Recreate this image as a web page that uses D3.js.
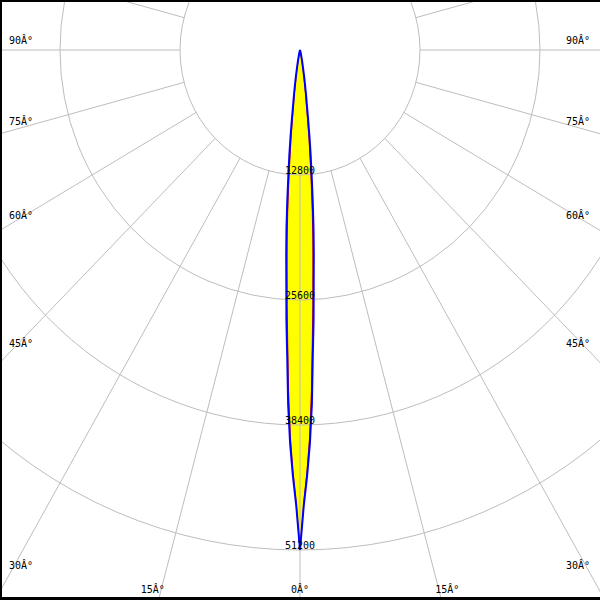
<!DOCTYPE html>
<html>
<head>
<meta charset="utf-8">
<script src="https://cdn.jsdelivr.net/npm/d3@7"></script>
<style>
  html, body { margin: 0; padding: 0; background: #fff; }
  svg { display: block; }
</style>
</head>
<body>
<svg id="chart" width="600" height="600"></svg>
<script>
// ---- data ----
const gammaAngles = [0, 0.5, 1, 1.5, 2, 2.5, 3, 3.5, 4, 4.5, 5, 5.5, 6, 6.5, 7, 7.5, 8, 9, 10, 11, 12, 13, 14, 15, 20];
const blueIntensity = [51200, 46600, 43600, 40300, 36300, 31300, 27700, 23900, 21100, 18400, 15600, 13000, 10900, 8900, 7000, 5500, 4600, 3000, 1900, 1200, 700, 400, 200, 100, 0];
const redIntensity  = [51200, 46400, 43100, 39500, 34900, 30000, 26100, 22500, 19600, 16700, 13800, 11300, 9200, 7200, 5500, 4600, 3700, 2300, 1400, 800, 450, 250, 120, 60, 0];
const ringValues = [12800, 25600, 38400, 51200];
const spokeAngles = [0, 15, 30, 45, 60, 75, 90, 105, 120, 135, 150, 165, 180, 195, 210, 225, 240, 255, 270, 285, 300, 315, 330, 345];
const angleLabels = [0, 15, 30, 45, 60, 75, 90];
const degSuffix = "Â°";

// ---- layout ----
const W = 600, H = 600;
const cx = 300, cy = 50;
const kx = 0.96; // horizontal squash of the original picture
const r = d3.scaleLinear().domain([0, 51200]).range([0, 500]);
const rad = d => d * Math.PI / 180;

const svg = d3.select("#chart");

const px = (g, v) => cx + kx * r(v) * Math.sin(rad(g));
const py = (g, v) => cy + r(v) * Math.cos(rad(g));

function curvePoints(vals) {
  const pts = [];
  for (let i = gammaAngles.length - 1; i >= 0; i--) pts.push([-gammaAngles[i], vals[i]]);
  for (let i = 1; i < gammaAngles.length; i++) pts.push([gammaAngles[i], vals[i]]);
  return pts;
}
const line = d3.line().x(d => px(d[0], d[1])).y(d => py(d[0], d[1]));

// fill
const gFill = svg.append("g");
[redIntensity, blueIntensity].forEach(vals => {
  gFill.append("path").attr("d", line(curvePoints(vals)) + "Z")
    .attr("fill", "#ffff00").attr("stroke", "none");
});

// grid
const grid = svg.append("g").attr("fill", "none").attr("stroke", "#bdbdbd").attr("stroke-width", 1);
ringValues.forEach(v => {
  grid.append("ellipse").attr("cx", cx).attr("cy", cy)
    .attr("rx", kx * r(v)).attr("ry", r(v));
});
const rMax = r(51200) * 2;
spokeAngles.forEach(a => {
  grid.append("line")
    .attr("x1", cx + kx * r(ringValues[0]) * Math.sin(rad(a)))
    .attr("y1", cy + r(ringValues[0]) * Math.cos(rad(a)))
    .attr("x2", cx + kx * rMax * Math.sin(rad(a)))
    .attr("y2", cy + rMax * Math.cos(rad(a)));
});

// curves
svg.append("path").attr("d", line(curvePoints(redIntensity)) + "Z")
  .attr("fill", "none").attr("stroke", "#e00000").attr("stroke-width", 1);
svg.append("path").attr("d", line(curvePoints(blueIntensity)) + "Z")
  .attr("fill", "none").attr("stroke", "#0000ff").attr("stroke-width", 2)
  .attr("stroke-linejoin", "miter");

// labels
const txt = svg.append("g").attr("font-family", "'DejaVu Sans Mono', monospace")
  .attr("font-size", 10).attr("fill", "#000");

ringValues.forEach(v => {
  txt.append("text").attr("x", cx).attr("y", cy + r(v) - 1)
    .attr("text-anchor", "middle").text(v);
});

const sideInset = 9, bottomBase = 593;
angleLabels.forEach(a => {
  const label = a + degSuffix;
  if (a === 0) {
    txt.append("text").attr("x", cx).attr("y", bottomBase).attr("text-anchor", "middle").text(label);
    return;
  }
  const yEdge = a === 90 ? cy : cy + ((cx - sideInset) / kx) / Math.tan(rad(a));
  if (yEdge - 6 <= bottomBase) {
    txt.append("text").attr("x", sideInset).attr("y", yEdge - 6).attr("text-anchor", "start").text(label);
    txt.append("text").attr("x", W - sideInset - 1).attr("y", yEdge - 6).attr("text-anchor", "end").text(label);
  } else {
    const dx = kx * (bottomBase - cy) * Math.tan(rad(a)) + 7.5;
    txt.append("text").attr("x", cx - dx).attr("y", bottomBase).attr("text-anchor", "middle").text(label);
    txt.append("text").attr("x", cx + dx).attr("y", bottomBase).attr("text-anchor", "middle").text(label);
  }
});

// frame (top, left, bottom)
svg.append("rect").attr("x", 0).attr("y", 0).attr("width", W).attr("height", 2).attr("fill", "#000");
svg.append("rect").attr("x", 0).attr("y", 0).attr("width", 2).attr("height", H).attr("fill", "#000");
svg.append("rect").attr("x", 0).attr("y", H - 3).attr("width", W).attr("height", 3).attr("fill", "#000");
</script>
</body>
</html>
